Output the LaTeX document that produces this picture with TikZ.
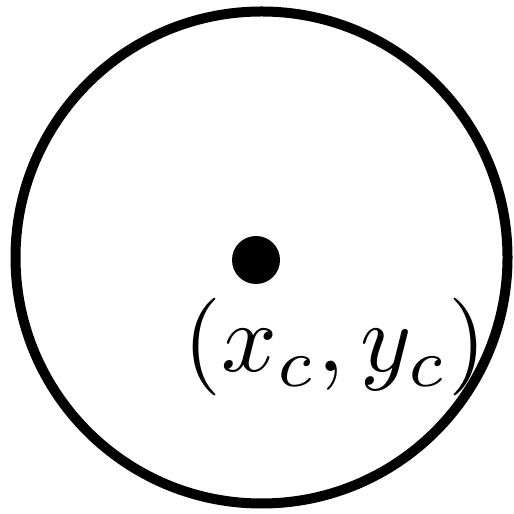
\documentclass[tikz,border=0pt]{standalone}
\usepackage{amsmath,amssymb}
\usepackage{tikz}
\usetikzlibrary{positioning}

\begin{document}
\begin{tikzpicture}
  \useasboundingbox (0,0) rectangle (5.14,5.14);
  \coordinate (O) at (2.615, 2.565);
  \coordinate (C) at (2.56, 2.54);

  \draw[line width=0.1cm] (O) circle (2.46);
  \fill (C) circle (0.24);
  \node[scale=2.78, inner sep=0pt] (L) at (3.35, 1.67) {$(x_c, y_c)$};
\end{tikzpicture}
\end{document}
